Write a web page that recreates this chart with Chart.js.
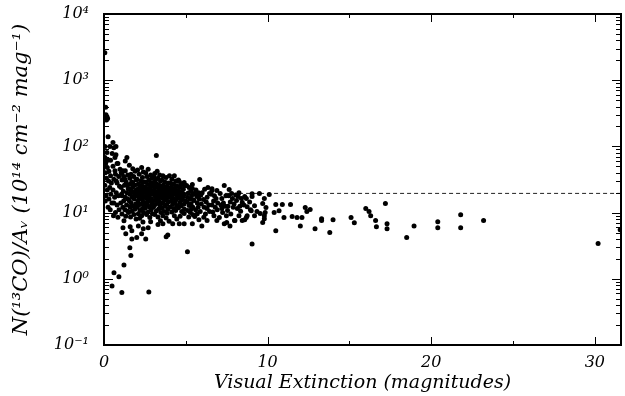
<!DOCTYPE html>
<html>
<head>
<meta charset="utf-8">
<script src="https://cdn.jsdelivr.net/npm/chart.js@4.4.1/dist/chart.umd.min.js"></script>
<style>
  html, body { margin: 0; padding: 0; background: #fff; }
  #wrap { width: 625px; height: 396px; }
</style>
</head>
<body>
<div id="wrap"><canvas id="graf"></canvas></div>
<script>
// Extinción visual (mag) y N(13CO)/Av
const puntos = [
  // x 0 - 0.5
  [0.05,2600],[0.1,390],[0.12,300],[0.18,280],[0.22,265],[0.15,250],[0.25,140],[0.55,115],[0.06,100],[0.36,100],
  [0.5,78],[0.18,81],[0.06,68],[0.1,55],[0.2,48],[0.3,42],[0.08,40],[0.4,36],[0.15,33],[0.28,30],
  [0.45,28],[0.05,26],[0.35,24],[0.2,22],[0.12,18],[0.42,19],[0.3,16],[0.08,15],[0.48,14],[0.25,12],
  [0.38,11],[0.49,0.78],[0.15,60],[0.4,62],[0.25,63],
  // x 0.5 - 1
  [0.6,95],[0.73,100],[0.67,68],[0.85,55],[0.67,43],[0.55,50],[0.7,38],[0.9,35],[0.6,32],[0.8,28],
  [0.95,25],[0.55,22],[0.75,20],[0.65,17],[0.88,18],[0.6,14],[0.8,13],[0.92,11],[0.7,10],[0.58,9],
  [0.85,8.5],[0.61,1.23],[0.91,1.07],[0.75,30],[0.98,45],[0.73,75],[0.8,55],
  // x 1 - 1.5
  [1.4,68],[1.15,43],[1.3,60],[1.05,40],[1.2,35],[1.45,37],[1.1,31],[1.35,29],[1.25,26],[1.05,24],
  [1.48,23],[1.18,21],[1.4,20],[1.1,18],[1.3,17],[1.45,16],[1.2,15],[1.02,14],[1.38,13],[1.15,12],
  [1.28,11],[1.45,10.5],[1.1,9.5],[1.33,8.8],[1.22,7.5],[1.16,5.9],[1.33,4.8],[1.22,1.62],[1.09,0.62],[1.42,26],
  [1.28,32],[1.07,19],[1.3,43],[1.1,39],
  // x 1.5 - 2
  [1.76,46],[1.55,52],[1.9,42],[1.65,38],[1.82,35],[1.58,33],[1.95,31],[1.7,29],[1.6,27],[1.88,26],
  [1.75,24],[1.52,23],[1.98,22],[1.68,21],[1.8,20],[1.58,19],[1.92,18],[1.72,17],[1.85,16],[1.55,15],
  [1.66,14],[1.94,13.5],[1.78,12.5],[1.6,12],[1.88,11.2],[1.7,10.5],[1.5,10],[1.83,9.4],[1.62,8.6],[1.96,8],
  [1.58,2.95],[1.64,2.24],[1.7,4.0],[1.7,5.3],[1.6,6.1],[1.75,28],[1.9,20.5],
  // x 2 - 2.5
  [2.3,48],[2.05,44],[2.4,41],[2.15,38],[2.35,34],[2.02,32],[2.25,30],[2.45,29],[2.1,27],[2.3,26],
  [2.18,24.5],[2.42,23.5],[2.06,22.5],[2.28,21.5],[2.48,21],[2.12,20],[2.36,19.5],[2.22,18.5],[2.02,18],[2.44,17.5],
  [2.16,16.5],[2.32,16],[2.08,15],[2.4,14.5],[2.25,13.5],[2.12,13],[2.46,12.5],[2.03,12],[2.35,11.5],[2.2,10.8],
  [2.42,10],[2.1,9.6],[2.3,9],[2.18,8.2],[2.0,4.2],[2.3,4.8],[2.4,5.7],[2.1,6.3],[2.38,7.2],
  // x 2.5 - 3
  [2.7,45],[2.55,40],[2.85,37],[2.62,35],[2.92,33],[2.75,31],[2.58,29],[2.88,28],[2.68,26.5],[2.95,25.5],
  [2.52,24.5],[2.8,23.5],[2.65,22.5],[2.9,21.8],[2.72,21],[2.56,20.2],[2.84,19.5],[2.98,19],[2.62,18.2],[2.76,17.6],
  [2.54,16.8],[2.9,16.2],[2.7,15.5],[2.82,14.8],[2.58,14.2],[2.94,13.6],[2.66,13],[2.78,12.2],[2.52,11.6],[2.88,11],
  [2.7,10.2],[2.6,9.4],[2.96,9.6],[2.8,8.4],[2.55,4.0],[2.7,5.9],[2.74,0.63],[2.85,7.3],
  // x 3 - 3.5
  [3.2,73],[3.1,39],[3.25,42],[3.4,37],[3.05,35],[3.3,33],[3.15,31],[3.45,30],[3.02,28.5],[3.22,27],
  [3.38,26],[3.1,25],[3.28,24],[3.48,23],[3.08,22],[3.35,21.2],[3.18,20.5],[3.42,19.8],[3.04,19.2],[3.26,18.5],
  [3.12,17.8],[3.46,17.2],[3.32,16.4],[3.2,15.8],[3.06,15.2],[3.4,14.6],[3.28,13.8],[3.14,13.2],[3.44,12.6],[3.02,12],
  [3.34,11.3],[3.2,10.6],[3.48,10],[3.1,9.4],[3.3,8.6],[3.3,6.6],[3.45,7.5],
  // x 3.5 - 4
  [3.6,36],[3.8,34],[3.55,31],[3.72,29],[3.92,28],[3.62,26],[3.85,25],[3.52,24],[3.75,23],[3.95,22],
  [3.65,21.3],[3.88,20.6],[3.58,20],[3.78,19.3],[3.98,18.7],[3.68,18],[3.9,17.3],[3.55,16.7],[3.82,16],[3.7,15.3],
  [3.94,14.6],[3.6,14],[3.84,13.2],[3.74,12.5],[3.56,11.8],[3.9,11.2],[3.66,10.4],[3.86,9.8],[3.6,9],[3.8,8.3],
  [3.6,6.8],[3.8,4.3],[3.9,4.6],[3.98,7.4],
  // x 4 - 4.5
  [4.0,36],[4.3,36],[4.15,32],[4.4,30],[4.05,28],[4.25,27],[4.45,25.5],[4.12,24.5],[4.35,23.5],[4.02,22.5],
  [4.22,21.5],[4.42,20.6],[4.08,20],[4.3,19.2],[4.18,18.5],[4.48,17.8],[4.04,17],[4.26,16.4],[4.4,15.6],[4.12,15],
  [4.34,14.2],[4.2,13.4],[4.46,12.8],[4.06,12.2],[4.28,11.5],[4.38,10.8],[4.14,10.2],[4.3,9],[4.2,6.8],[4.45,8],
  // x 4.5 - 5
  [4.6,29.5],[4.8,27.5],[4.55,31],[4.7,26],[4.95,25.6],[4.62,24],[4.85,22.5],[4.52,21.5],[4.75,20.8],[4.6,19.4],
  [4.9,19],[4.68,18.2],[4.82,17.2],[4.56,16.5],[4.75,15.6],[4.98,15],[4.64,14.2],[4.88,13.4],[4.72,12.6],[4.55,11.8],
  [4.92,11.2],[4.75,10.4],[4.9,9.7],[4.6,6.8],[4.9,6.8],[4.65,8.8],[4.9,28.5],
  // x 5 - 6
  [5.05,25.6],[5.2,24],[5.4,23.1],[5.1,17],[5.3,21],[5.45,19.5],[5.15,19.8],[5.35,18],[5.25,16],[5.48,15.5],
  [5.08,14.5],[5.32,13.6],[5.2,12.8],[5.42,12.2],[5.35,11.4],[5.12,10.8],[5.28,10],[5.45,9.3],[5.1,2.57],[5.4,6.8],
  [5.18,8.6],[5.4,26.5],
  [5.85,31.6],[5.5,15.2],[5.7,14],[5.55,8.7],[5.62,22],[5.78,20],[5.92,18.5],[5.68,17.5],[5.58,19],[5.82,16],
  [5.95,13.5],[5.75,12],[5.6,11],[5.88,10.4],[5.7,9.6],[5.98,6.3],[5.8,7.8],
  // x 6 - 7
  [6.0,20],[6.3,17],[6.15,22.5],[6.45,19.5],[6.08,15.8],[6.25,14.5],[6.4,13],[6.12,12],[6.3,11.5],[6.45,10.4],
  [6.2,9.5],[6.3,7.6],[6.1,8.5],[6.35,24],
  [6.6,21.5],[6.75,18],[6.9,21.5],[6.55,19],[6.85,16.3],[6.7,15],[6.95,14],[6.6,13],[6.8,12],[6.92,11],
  [6.65,10.2],[6.9,7.6],[6.72,9],[6.6,23],
  // x 7 - 8
  [7.05,8.4],[7.2,16.3],[7.2,11.5],[7.35,25.6],[7.35,6.8],[7.1,19.5],[7.45,18],[7.3,14],[7.15,13],[7.4,12.5],
  [7.25,10],[7.48,9],[7.5,7.1],[7.65,22.3],[7.55,10.8],[7.85,16.3],[7.95,13.5],[7.7,6.3],[7.62,18],[7.8,19.5],
  [7.72,14.5],[7.9,12],[7.58,12.5],[7.98,7.6],[7.75,9.5],
  // x 8 - 10
  [8.1,15.2],[8.4,16.3],[8.45,14.2],[8.0,7.6],[8.45,7.6],[8.2,17.5],[8.3,12.5],[8.05,18.5],[8.35,10.5],[8.15,11.5],
  [8.25,9],[8.25,20],[8.6,7.8],[8.7,16.3],[8.75,12.3],[8.7,8.4],[8.75,9.0],[8.55,13],[8.9,14.5],[8.95,11],
  [8.6,17.5],[9.05,19.2],[9.05,17.5],[9.05,3.35],[9.2,12.7],[9.0,10.7],[9.35,10.4],[9.5,19.4],[9.55,9.7],[9.7,13.7],
  [9.8,16.3],[9.85,10],[9.9,11.9],[9.8,8.1],[9.7,7.1],[9.8,9.0],[9.2,9.0],
  // x > 10
  [10.1,18.8],[10.5,13.2],[10.4,10],[10.7,10.7],[10.5,5.3],[10.9,13.2],[11.0,8.4],[11.4,13.2],[11.5,8.7],[11.8,8.4],
  [12.0,6.3],[12.1,8.4],[12.3,11.9],[12.4,10.4],[12.6,11.1],[12.9,5.7],[13.3,8.1],[13.3,7.6],[13.8,5.0],[14.0,7.8],
  [15.1,8.4],[15.3,7.0],[16.0,11.5],[16.2,10.4],[16.3,9.0],[16.6,7.6],[16.65,6.1],[17.2,13.7],[17.3,6.8],[17.3,5.7],
  [18.5,4.2],[18.95,6.3],[20.4,7.3],[20.4,5.9],[21.8,9.3],[21.8,5.9],[23.2,7.6],[30.2,3.4],[31.55,5.5]
];

// línea de trazos (nivel medio)
const trazoX = [7.4, 32];
const trazoY = [19.5, 19.5];

const xMin = 0, xMax = 31.6;
const yMin = 0.1, yMax = 10000;
const xTicks = [0, 10, 20, 30];
const xMenores = [5, 15, 25];
const yTicks = [0.1, 1, 10, 100, 1000, 10000];
const yEtiquetas = ['10⁻¹', '10⁰', '10¹', '10²', '10³', '10⁴'];

const fuente = 'DejaVu Serif';

// marco con marcas hacia dentro, como en el original
const marcoEjes = {
  id: 'marcoEjes',
  afterDatasetsDraw(chart) {
    const {ctx, chartArea: a, scales: {x, y}} = chart;
    ctx.save();
    ctx.strokeStyle = '#000';
    ctx.lineWidth = 1;
    const linea = (x1, y1, x2, y2) => { ctx.beginPath(); ctx.moveTo(x1, y1); ctx.lineTo(x2, y2); ctx.stroke(); };
    for (let e = -1; e < 4; e++) {
      for (let m = 1; m < 10; m++) {
        const py = Math.round(y.getPixelForValue(m * Math.pow(10, e))) + 0.5;
        const len = m === 1 ? 9 : 5;
        linea(a.left, py, a.left + len, py);
        linea(a.right, py, a.right - len, py);
      }
    }
    xTicks.concat(xMenores).forEach(v => {
      const px = Math.round(x.getPixelForValue(v)) + 0.5;
      const len = xTicks.includes(v) ? 8 : 4;
      linea(px, a.bottom, px, a.bottom - len);
      linea(px, a.top, px, a.top + len);
    });
    ctx.lineWidth = 2;
    ctx.strokeRect(a.left, a.top, a.right - a.left, a.bottom - a.top);
    ctx.restore();
  }
};

const ctx = document.getElementById('graf').getContext('2d');
const myChart = new Chart(ctx, {
  type: 'scatter',
  data: {
    datasets: [
      {
        data: puntos.map(p => ({x: p[0], y: p[1]})),
        backgroundColor: '#000',
        borderWidth: 0,
        pointRadius: 2.5
      },
      {
        type: 'line',
        data: trazoX.map((v, i) => ({x: v, y: trazoY[i]})),
        borderColor: '#222',
        borderWidth: 1,
        borderDash: [4, 3],
        pointRadius: 0,
        fill: false
      }
    ]
  },
  options: {
    responsive: true,
    maintainAspectRatio: false,
    animation: false,
    layout: { padding: { left: 0, top: 14, right: 1, bottom: 0 } },
    plugins: {
      legend: { display: false },
      tooltip: { enabled: false }
    },
    scales: {
      x: {
        type: 'linear',
        min: xMin,
        max: xMax,
        afterBuildTicks: s => { s.ticks = xTicks.map(v => ({value: v})); },
        afterFit: s => { s.height = 51; s.paddingLeft = 0; s.paddingRight = 0; },
        grid: { display: false, drawTicks: false },
        border: { display: false },
        ticks: {
          padding: 8,
          color: '#000',
          font: { family: fuente, style: 'italic', size: 16 }
        },
        title: {
          display: true,
          text: 'Visual Extinction (magnitudes)',
          color: '#000',
          padding: { top: 0, bottom: 2 },
          font: { family: fuente, style: 'italic', size: 19 }
        }
      },
      y: {
        type: 'logarithmic',
        min: yMin,
        max: yMax,
        afterBuildTicks: s => { s.ticks = yTicks.map(v => ({value: v})); },
        afterFit: s => { s.width = 104; s.paddingTop = 0; s.paddingBottom = 0; },
        grid: { display: false, drawTicks: false },
        border: { display: false },
        ticks: {
          padding: 15,
          color: '#000',
          font: { family: fuente, style: 'italic', size: 16 },
          callback: function(value) {
            const i = yTicks.findIndex(t => Math.abs(t - value) / t < 1e-6);
            return i >= 0 ? yEtiquetas[i] : '';
          }
        },
        title: {
          display: true,
          text: 'N(¹³CO)/Aᵥ (10¹⁴ cm⁻² mag⁻¹)',
          color: '#000',
          padding: { top: 9, bottom: 0 },
          font: { family: fuente, style: 'italic', size: 21 }
        }
      }
    }
  },
  plugins: [marcoEjes]
});
</script>
</body>
</html>
